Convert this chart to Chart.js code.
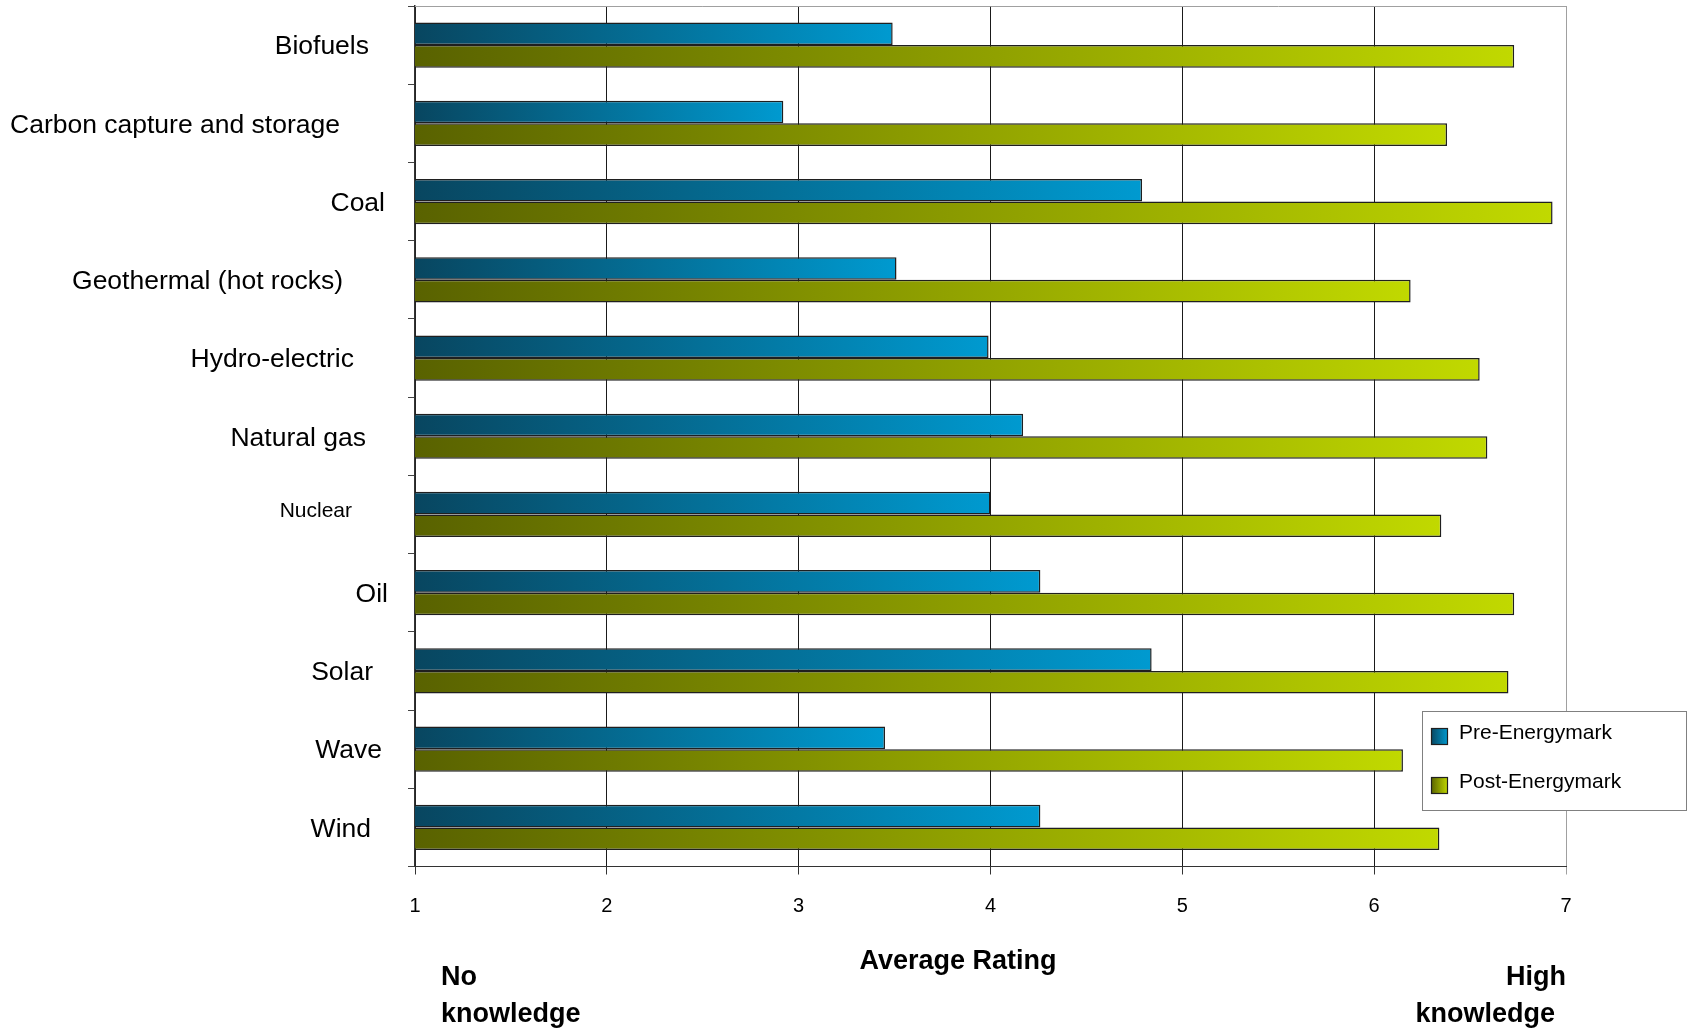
<!DOCTYPE html>
<html>
<head>
<meta charset="utf-8">
<script src="https://cdn.jsdelivr.net/npm/chart.js@4/dist/chart.umd.min.js"></script>
<style>
  html, body { margin: 0; padding: 0; background: #ffffff; }
  #wrap { width: 1691px; height: 1029px; position: relative; }
</style>
</head>
<body>
<div id="wrap"><canvas id="chart" width="1691" height="1029"></canvas></div>
<script>
// Energy sources rated before and after the Energymark programme
const categories = [
  'Biofuels',
  'Carbon capture and storage',
  'Coal',
  'Geothermal (hot rocks)',
  'Hydro-electric',
  'Natural gas',
  'Nuclear',
  'Oil',
  'Solar',
  'Wave',
  'Wind'
];
const seriesNames = ['Pre-Energymark', 'Post-Energymark'];
const preRatings  = [3.49, 2.92, 4.79, 3.51, 3.99, 4.17, 4.00, 4.26, 4.84, 3.45, 4.26];
const postRatings = [6.73, 6.38, 6.93, 6.19, 6.55, 6.59, 6.35, 6.73, 6.70, 6.15, 6.34];
const ratingTicks = [1, 2, 3, 4, 5, 6, 7];
const axisTitle = 'Average Rating';
const scaleLow  = ['No', 'knowledge'];
const scaleHigh = ['High', 'knowledge'];

// ---- styling ----
const FONT = "'Liberation Sans', Arial, Helvetica, sans-serif";
const preStops  = ['#084660', '#009ad0'];
const postStops = ['#596200', '#c1d900'];
const barEdge = '#1f1f1f';

// category label placement (right edge in px, font size, vertical nudge)
const labelRight = [369, 340, 385, 343, 354, 366, 352, 388, 373, 382, 371];
const labelSize  = [26.5, 26.5, 26.5, 26.5, 26.5, 26.5, 21, 26.5, 26.5, 26.5, 26.5];
const labelNudge = [2, 2, 2, 2, 2, 2, -3, 2, 2, 2, 2];

function gradientFill(stops) {
  return (ctx) => {
    const chart = ctx.chart;
    const xs = chart.scales && chart.scales.x;
    if (!chart.chartArea || !xs || ctx.raw == null) return stops[1];
    const x0 = xs.getPixelForValue(xs.min);
    const x1 = xs.getPixelForValue(ctx.raw);
    const g = chart.ctx.createLinearGradient(x0, 0, Math.max(x1, x0 + 1), 0);
    g.addColorStop(0, stops[0]);
    g.addColorStop(1, stops[1]);
    return g;
  };
}

// category names, plot frame, legend and axis captions
const decorations = {
  id: 'decorations',
  afterDraw(chart) {
    const c = chart.ctx;
    const area = chart.chartArea;
    const ys = chart.scales.y;
    c.save();

    // top edge of the plot frame
    c.strokeStyle = '#a0a0a0';
    c.lineWidth = 1;
    c.beginPath();
    c.moveTo(area.left, Math.round(area.top) + 0.5);
    c.lineTo(area.right + 0.5, Math.round(area.top) + 0.5);
    c.stroke();

    // category names
    c.fillStyle = '#000';
    c.textAlign = 'right';
    c.textBaseline = 'middle';
    categories.forEach((name, i) => {
      c.font = labelSize[i] + 'px ' + FONT;
      c.fillText(name, labelRight[i], ys.getPixelForValue(i) + labelNudge[i]);
    });

    // axis captions
    c.font = 'bold 27px ' + FONT;
    c.textAlign = 'center';
    c.textBaseline = 'alphabetic';
    c.fillText(axisTitle, 958, 969);
    c.textAlign = 'left';
    c.fillText(scaleLow[0], 441, 985);
    c.fillText(scaleLow[1], 441, 1022);
    c.textAlign = 'right';
    c.fillText(scaleHigh[0], 1566, 985);
    c.fillText(scaleHigh[1], 1555, 1022);

    // legend box
    const bx = 1422.5, by = 711.5, bw = 264, bh = 99;
    c.fillStyle = '#ffffff';
    c.fillRect(bx, by, bw, bh);
    c.strokeStyle = '#808080';
    c.lineWidth = 1;
    c.strokeRect(bx, by, bw, bh);
    const rows = [736, 785];
    [preStops, postStops].forEach((stops, i) => {
      const sx = 1431, sy = rows[i] - 8, s = 17;
      const g = c.createLinearGradient(sx, 0, sx + s, 0);
      g.addColorStop(0, stops[0]);
      g.addColorStop(1, stops[1]);
      c.fillStyle = g;
      c.fillRect(sx, sy, s, s);
      c.strokeStyle = barEdge;
      c.lineWidth = 1.2;
      c.strokeRect(sx + 0.5, sy + 0.5, s - 1, s - 1);
      c.fillStyle = '#000';
      c.font = '21px ' + FONT;
      c.textAlign = 'left';
      c.textBaseline = 'middle';
      c.fillText(chart.data.datasets[i].label, 1459, rows[i] - 3);
    });
    c.restore();
  }
};

new Chart(document.getElementById('chart'), {
  type: 'bar',
  data: {
    labels: categories,
    datasets: [
      {
        label: seriesNames[0],
        data: preRatings,
        backgroundColor: gradientFill(preStops),
        borderColor: barEdge,
        borderWidth: 1.5,
        borderSkipped: false
      },
      {
        label: seriesNames[1],
        data: postRatings,
        backgroundColor: gradientFill(postStops),
        borderColor: barEdge,
        borderWidth: 1.5,
        borderSkipped: false
      }
    ]
  },
  options: {
    indexAxis: 'y',
    responsive: false,
    animation: false,
    devicePixelRatio: 1,
    categoryPercentage: 0.578,
    barPercentage: 1.0,
    layout: { padding: { left: 408, right: 125, top: 6, bottom: 0 } },
    plugins: {
      legend: { display: false },
      tooltip: { enabled: false },
      title: { display: false }
    },
    scales: {
      x: {
        type: 'linear',
        position: 'bottom',
        min: ratingTicks[0],
        max: ratingTicks[ratingTicks.length - 1],
        afterBuildTicks: (s) => { s.ticks = ratingTicks.map(v => ({ value: v })); },
        afterFit: (s) => { s.height = 162.5; },
        grid: {
          color: (ctx) => (ctx.tick && ctx.tick.value === 7) ? '#a0a0a0' : '#1a1a1a',
          lineWidth: 1,
          drawTicks: true,
          tickLength: 8,
          tickColor: (ctx) => (ctx.tick && ctx.tick.value === 7) ? '#a0a0a0' : '#333'
        },
        border: { display: true, color: '#333', width: 1 },
        ticks: {
          color: '#000',
          font: { family: FONT, size: 20 },
          padding: 20,
          maxRotation: 0,
          autoSkip: false
        }
      },
      y: {
        type: 'category',
        offset: true,
        afterFit: (s) => { s.width = 7; },
        grid: {
          offset: true,
          drawOnChartArea: false,
          drawTicks: true,
          tickLength: 7,
          color: '#444',
          lineWidth: 1
        },
        border: { display: true, color: '#333', width: 1.5 },
        ticks: { display: false }
      }
    }
  },
  plugins: [decorations]
});
</script>
</body>
</html>
